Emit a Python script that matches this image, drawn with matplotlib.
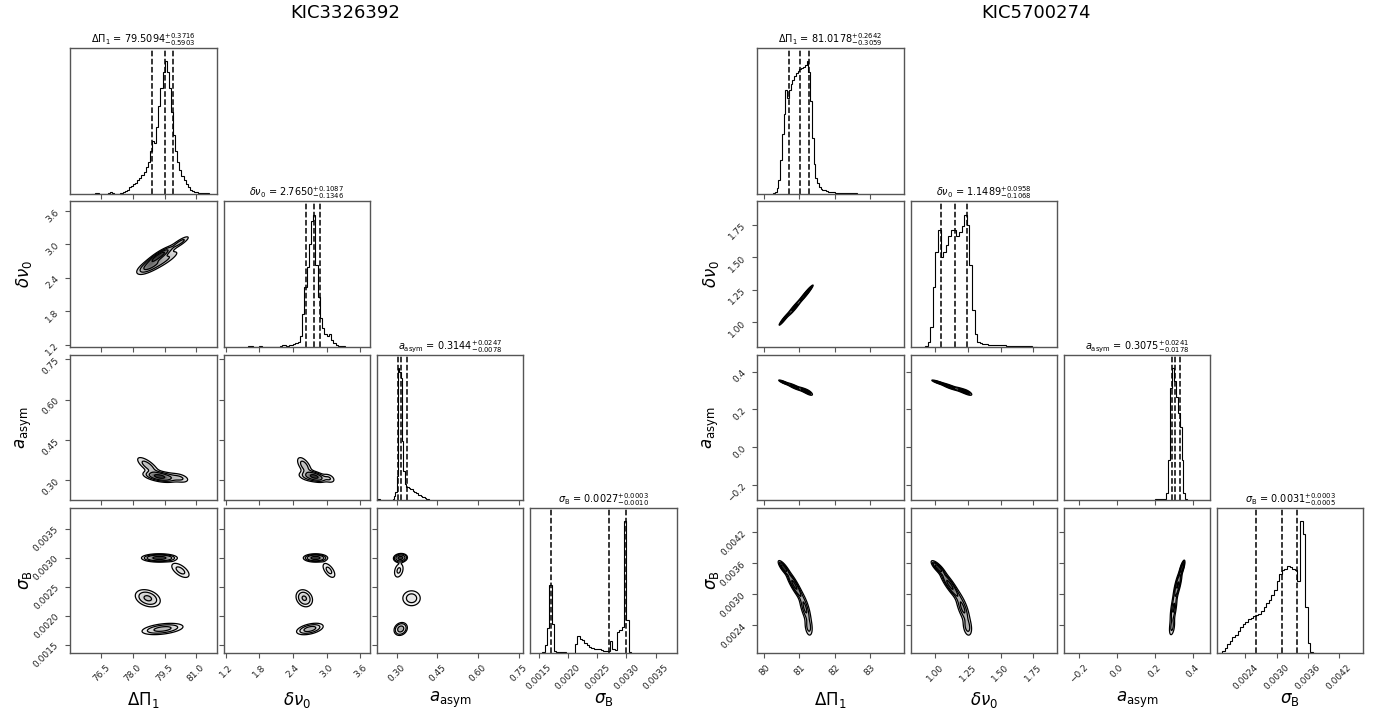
import numpy as np
import matplotlib.pyplot as plt
from matplotlib.colors import LinearSegmentedColormap

plt.rcParams["font.family"] = "DejaVu Sans"
plt.rcParams["mathtext.fontset"] = "dejavusans"

PARAMS = [r"\Delta\Pi_1", r"\delta\nu_0", r"a_{\rm asym}", r"\sigma_{\rm B}"]

# ---------------- KIC3326392 ----------------
A_NAME = "KIC3326392"
A_MEDIAN = [79.5094, 2.7650, 0.3144, 0.0027]
A_LOWER = [0.5903, 0.1346, 0.0078, 0.0010]
A_UPPER = [0.3716, 0.1087, 0.0247, 0.0003]
A_RANGE = [(75.02, 81.98), (1.16, 3.775), (0.227, 0.768), (0.00135, 0.00386)]
A_TICKS = [[76.5, 78.0, 79.5, 81.0],
           [1.2, 1.8, 2.4, 3.0, 3.6],
           [0.30, 0.45, 0.60, 0.75],
           [0.0015, 0.0020, 0.0025, 0.0030, 0.0035]]
A_TICK_FMT = ["{:.1f}", "{:.1f}", "{:.2f}", "{:.4f}"]

# histogram bins: first edge, bin width, heights
A_HIST_START = [76.0, 1.60, 0.225, 0.00156]
A_HIST_WIDTH = [0.1, 0.04, 0.005, 0.00004]
A_HIST_DPI1 = [0, 0, 0.6, 0.6, 0, 0, 0, 0, 0.7, 0.9, 0.6, 0, 0, 0, 0.4, 1, 2, 3,
               5, 6, 7, 8, 10, 12, 14, 16, 20, 24, 32, 40, 38, 50, 66, 80, 92,
               100, 92, 80, 62, 44, 32, 24, 18, 13, 10, 7, 5, 3, 2, 1.5, 1, 0.6,
               0.5, 0.5, 0.4, 0.3]
A_HIST_DNU0 = [0.3, 0.3, 0, 0, 0, 0.3, 0, 0, 0, 0, 0, 0, 0, 0, 0.5, 1, 1.2, 0.8,
               1, 1.5, 2, 3, 4, 8, 25, 45, 60, 78, 95, 100, 62, 38, 22, 14, 10,
               8, 10, 5, 3, 1.5, 0.8, 0.4, 0.3]
A_HIST_ASYM = [0.6, 0.8, 0.6, 0.3, 0, 0, 0, 0, 0, 0, 0, 0, 0.5, 3, 6, 18, 100,
               97, 92, 45, 22, 12, 10, 10, 9, 8, 8, 7, 6, 5, 5, 4, 4, 3, 2.5, 2,
               1.5, 1, 0.5]
A_HIST_SIGB = [1, 6, 19, 52, 22, 1.5, 1, 0.8, 1.3, 1.3, 0.4, 0, 0, 0, 7, 13, 11,
               10, 8, 6, 5, 4, 3.5, 3, 3, 2.5, 2, 2, 2, 9, 3, 2.5, 16, 18, 20,
               100, 25, 1]

# posterior modes: weight, mean, sd, correlations (01, 02, 03, 12, 13, 23)
A_MODE_WEIGHT = [0.37, 0.10, 0.25, 0.28]
A_MODE_MEAN = [[79.25, 2.80, 0.314, 0.002995],
               [80.25, 3.04, 0.308, 0.00278],
               [78.70, 2.60, 0.355, 0.00230],
               [79.40, 2.70, 0.315, 0.00177]]
A_MODE_SD = [[0.35, 0.09, 0.010, 0.00003],
             [0.27, 0.07, 0.011, 0.00008],
             [0.32, 0.08, 0.020, 0.00008],
             [0.50, 0.12, 0.011, 0.00005]]
A_MODE_CORR = [[0.88, -0.50, 0.00, -0.50, 0.00, 0.10],
               [0.85, -0.40, -0.60, -0.40, -0.60, 0.30],
               [0.70, -0.75, -0.30, -0.60, -0.20, 0.00],
               [0.88, -0.30, 0.40, -0.30, 0.45, 0.20]]

# ---------------- KIC5700274 ----------------
B_NAME = "KIC5700274"
B_MEDIAN = [81.0178, 1.1489, 0.3075, 0.0031]
B_LOWER = [0.3059, 0.1068, 0.0178, 0.0005]
B_UPPER = [0.2642, 0.0958, 0.0241, 0.0003]
B_RANGE = [(79.8, 83.97), (0.81, 1.93), (-0.279, 0.49), (0.00185, 0.00467)]
B_TICKS = [[80, 81, 82, 83],
           [1.00, 1.25, 1.50, 1.75],
           [-0.2, 0.0, 0.2, 0.4],
           [0.0024, 0.0030, 0.0036, 0.0042]]
B_TICK_FMT = ["{:.0f}", "{:.2f}", "{:.1f}", "{:.4f}"]

B_HIST_START = [80.25, 0.92, 0.20, 0.0019]
B_HIST_WIDTH = [0.05, 0.02, 0.01, 0.00005]
B_HIST_DPI1 = [0.5, 1.5, 4, 10, 25, 45, 60, 78, 72, 78, 83, 86, 89, 91, 93, 94,
               95, 96, 97, 100, 92, 70, 42, 22, 12, 8, 5, 3.5, 3, 2.5, 2, 1.5,
               1.5, 1, 1, 0.8, 0.8, 0.6, 0.7, 0.6, 0.5, 0.6, 0.7, 0.5, 0.4, 0.5,
               0.4, 0.3]
B_HIST_DNU0 = [0.5, 4, 15, 45, 72, 88, 68, 72, 77, 84, 88, 88, 84, 87, 91, 100,
               92, 62, 28, 10, 4, 3, 2, 2, 1.5, 1.5, 1.2, 1.2, 1, 1, 1, 0.8, 0.8,
               0.8, 0.6, 0.6, 0.5, 0.5, 0.4, 0.3, 0.3, 0.2, 0.2]
B_HIST_ASYM = [0.8, 1, 1, 0.5, 0.5, 1, 5, 30, 85, 100, 90, 78, 66, 55, 30, 5, 1]
B_HIST_SIGB = [0.5, 2, 4, 7, 9, 12, 14, 17, 20, 22, 24, 26, 27, 28, 29, 30, 32,
               35, 38, 40, 44, 48, 55, 60, 63, 64, 66, 65, 64, 63, 55, 100, 90,
               35, 8, 1, 0.3]

B_MODE_WEIGHT = [0.17, 0.40, 0.30, 0.13]
B_MODE_MEAN = [[80.55, 1.020, 0.343, 0.00351],
               [80.85, 1.110, 0.320, 0.00318],
               [81.16, 1.210, 0.298, 0.00272],
               [81.26, 1.245, 0.290, 0.00235]]
B_MODE_SD = [[0.08, 0.027, 0.007, 0.00007],
             [0.13, 0.042, 0.012, 0.00015],
             [0.10, 0.032, 0.011, 0.00017],
             [0.07, 0.022, 0.010, 0.00011]]
B_MODE_CORR = [[0.95, -0.88, -0.80, -0.88, -0.80, 0.75],
               [0.95, -0.88, -0.88, -0.88, -0.88, 0.75],
               [0.95, -0.82, -0.70, -0.82, -0.70, 0.60],
               [0.95, -0.70, -0.30, -0.70, -0.30, 0.40]]

STARS = [
    dict(name=A_NAME, median=A_MEDIAN, lower=A_LOWER, upper=A_UPPER,
         ranges=A_RANGE, ticks=A_TICKS, fmt=A_TICK_FMT,
         start=A_HIST_START, width=A_HIST_WIDTH,
         hists=[A_HIST_DPI1, A_HIST_DNU0, A_HIST_ASYM, A_HIST_SIGB],
         weight=A_MODE_WEIGHT, mean=A_MODE_MEAN, sd=A_MODE_SD, corr=A_MODE_CORR),
    dict(name=B_NAME, median=B_MEDIAN, lower=B_LOWER, upper=B_UPPER,
         ranges=B_RANGE, ticks=B_TICKS, fmt=B_TICK_FMT,
         start=B_HIST_START, width=B_HIST_WIDTH,
         hists=[B_HIST_DPI1, B_HIST_DNU0, B_HIST_ASYM, B_HIST_SIGB],
         weight=B_MODE_WEIGHT, mean=B_MODE_MEAN, sd=B_MODE_SD, corr=B_MODE_CORR),
]

PAIR = {(0, 1): 0, (0, 2): 1, (0, 3): 2, (1, 2): 3, (1, 3): 4, (2, 3): 5}
SIGMA_LEVELS = 1.0 - np.exp(-0.5 * np.arange(0.5, 2.1, 0.5) ** 2)
DENSITY_CMAP = LinearSegmentedColormap.from_list("dens", ["#ffffff", "#303030"])
FRAME = "#555555"


def pair_density(X, Y, j, i, star):
    Z = np.zeros_like(X)
    for w, m, s, c in zip(star["weight"], star["mean"], star["sd"], star["corr"]):
        r = c[PAIR[(j, i)]]
        dx = (X - m[j]) / s[j]
        dy = (Y - m[i]) / s[i]
        q = (dx ** 2 - 2 * r * dx * dy + dy ** 2) / (1 - r ** 2)
        Z += w * np.exp(-0.5 * q) / (2 * np.pi * s[j] * s[i] * np.sqrt(1 - r ** 2))
    return Z


def mass_levels(Z):
    flat = np.sort(Z.ravel())[::-1]
    cum = np.cumsum(flat)
    cum /= cum[-1]
    return np.sort([flat[np.searchsorted(cum, v)] for v in SIGMA_LEVELS])


def tick_text(fmt, v):
    return fmt.format(v).replace("-", "\u2212")


def draw_corner(fig, gs, star):
    n = 4
    for i in range(n):
        for j in range(i + 1):
            ax = fig.add_subplot(gs[i, j])
            xr = star["ranges"][j]
            if i == j:
                counts = np.asarray(star["hists"][i], dtype=float)
                edges = star["start"][i] + star["width"][i] * np.arange(len(counts) + 1)
                ax.stairs(counts, edges, color="k", linewidth=0.8)
                ax.set_ylim(0, 1.1 * counts.max())
                m, lo, hi = star["median"][i], star["lower"][i], star["upper"][i]
                for q in (m - lo, m, m + hi):
                    ax.axvline(q, ls="--", color="k", lw=1.1)
                ax.set_title(rf"${PARAMS[i]}$ = ${m:.4f}_{{-{lo:.4f}}}^{{+{hi:.4f}}}$",
                             fontsize=7, pad=3)
                ax.set_yticks([])
            else:
                yr = star["ranges"][i]
                gx = np.linspace(*xr, 400)
                gy = np.linspace(*yr, 400)
                X, Y = np.meshgrid(gx, gy)
                Z = pair_density(X, Y, j, i, star)
                V = mass_levels(Z)
                ax.pcolormesh(X, Y, np.ma.masked_less(Z, V[0]), cmap=DENSITY_CMAP,
                              vmin=0, vmax=Z.max(), shading="auto", rasterized=True)
                ax.contour(X, Y, Z, levels=V, colors="k", linewidths=0.9)
                ax.set_ylim(*yr)
                ax.set_yticks(star["ticks"][i])
                if j == 0:
                    ax.set_yticklabels([tick_text(star["fmt"][i], v) for v in star["ticks"][i]],
                                       rotation=45)
                    ax.set_ylabel(f"${PARAMS[i]}$", fontsize=12)
                    ax.yaxis.set_label_coords(-0.25, 0.5)
                else:
                    ax.set_yticklabels([])
            ax.set_xlim(*xr)
            ax.set_xticks(star["ticks"][j])
            if i == n - 1:
                ax.set_xticklabels([tick_text(star["fmt"][j], v) for v in star["ticks"][j]],
                                   rotation=45)
                ax.set_xlabel(f"${PARAMS[j]}$", fontsize=12)
                ax.xaxis.set_label_coords(0.5, -0.25)
            else:
                ax.set_xticklabels([])
            ax.tick_params(labelsize=6.5, length=3.5, width=0.8, color=FRAME,
                           labelcolor="#222222")
            for sp in ax.spines.values():
                sp.set_color(FRAME)
                sp.set_linewidth(1.0)


fig = plt.figure(figsize=(13.81, 7.22), dpi=100)
LEFTS = [0.0509, 0.5484]
RIGHTS = [0.4900, 0.9872]
TITLE_X = [0.2498, 0.7502]
for k, star in enumerate(STARS):
    gs = fig.add_gridspec(4, 4, left=LEFTS[k], right=RIGHTS[k], top=0.9335,
                          bottom=0.0951, wspace=0.046, hspace=0.053)
    draw_corner(fig, gs, star)
    fig.text(TITLE_X[k], 1 - 13 / 722, star["name"], ha="center", va="center",
             fontsize=13)

fig.savefig("out.png", dpi=100)
